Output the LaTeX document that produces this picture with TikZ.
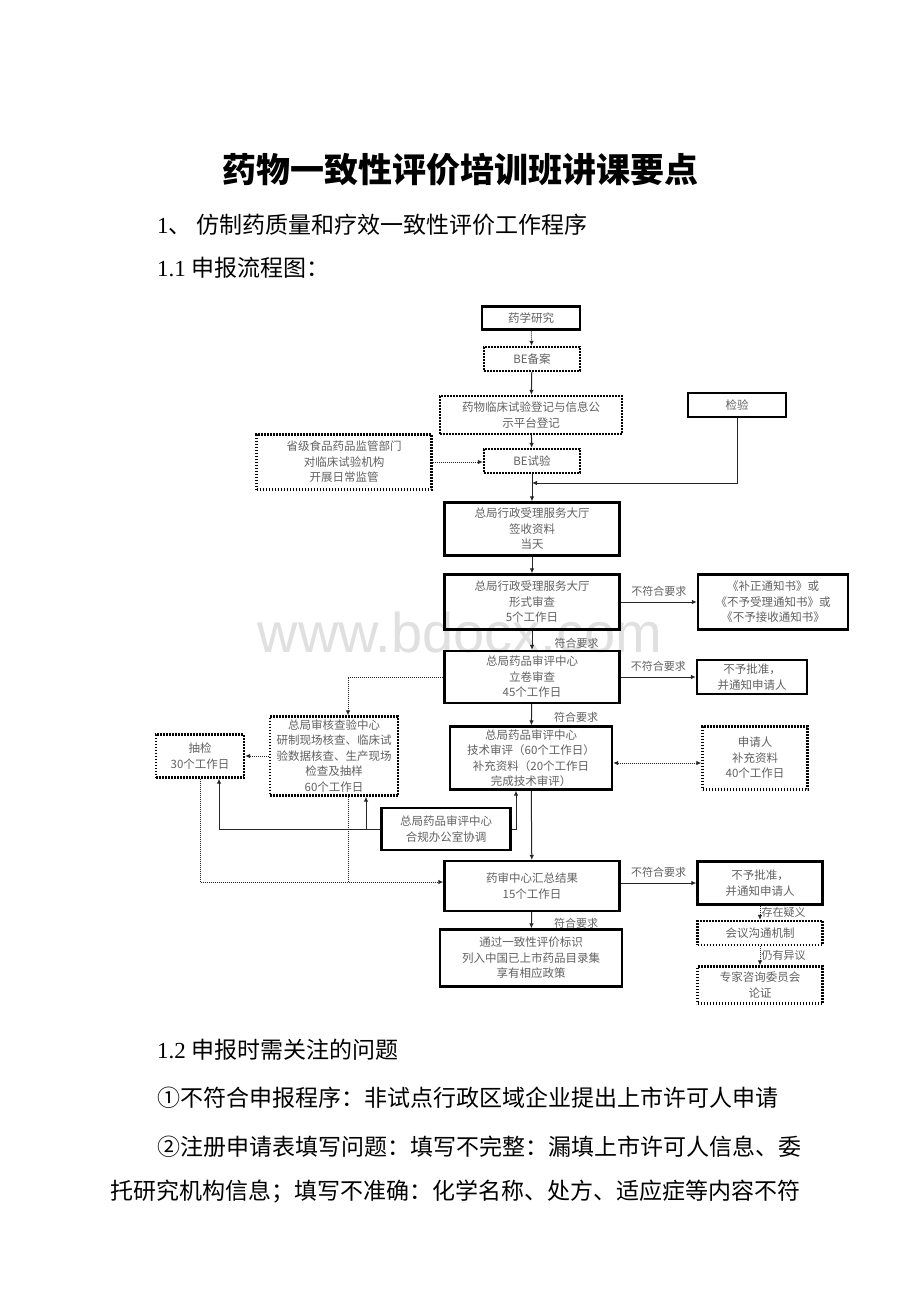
\documentclass[tikz,border=0pt]{standalone}
\usepackage{fontspec}
\setmainfont{Liberation Serif}
\newfontfamily\cjk{Noto Sans CJK SC}
\newfontfamily\wmfont{Liberation Sans}
\usetikzlibrary{arrows.meta}

\begin{document}
\begin{tikzpicture}[x=1pt,y=-1pt,
  box/.style={font=\cjk\fontsize{11.5}{15.5}\selectfont,text=black!62,align=center,inner sep=0pt},
  solidbox/.style={box,draw,line width=2.3pt},
  dotbox/.style={box,draw,line width=2.3pt,dash pattern=on 1.6pt off 1.4pt},
  link/.style={-{Latex[length=5pt,width=4.5pt]},line width=1pt,black!85},
  dotlink/.style={link,dash pattern=on 1pt off 1pt},
  lbl/.style={font=\cjk\fontsize{11}{13}\selectfont,text=black!62,inner sep=2pt},
  line/.style={font=\fontsize{23}{26}\selectfont,anchor=west,inner sep=0pt}]

\useasboundingbox (0,0) rectangle (920,1302);
\fill[white] (0,0) rectangle (920,1302);

\node[font=\wmfont\fontsize{56}{60}\selectfont,text=black!12] (mark) at (460,632) {www.bdocx.com};

\node[font=\cjk\bfseries\fontsize{34}{40}\selectfont] (title) at (460,170) {药物一致性评价培训班讲课要点};
\node[line] (sec1) at (157,225) {1{\cjk 、 仿制药质量和疗效一致性评价工作程序}};
\node[line] (sec11) at (157,268) {1.1 {\cjk 申报流程图：}};
\node[line] (sec12) at (157,1050) {1.2 {\cjk 申报时需关注的问题}};
\node[line] (p1) at (157,1098) {\cjk ①不符合申报程序：非试点行政区域企业提出上市许可人申请};
\node[line] (p2) at (157,1147) {\cjk ②注册申请表填写问题：填写不完整：漏填上市许可人信息、委};
\node[line] (p3) at (110,1192) {\cjk 托研究机构信息；填写不准确：化学名称、处方、适应症等内容不符};

% boxes
\node[solidbox,minimum width=98,minimum height=23] (yaoxue) at (531,318) {药学研究};
\node[dotbox,minimum width=96,minimum height=24] (bebei) at (532,359) {BE备案};
\node[dotbox,minimum width=182,minimum height=38] (dengji) at (531,415) {药物临床试验登记与信息公\\示平台登记};
\node[solidbox,minimum width=98,minimum height=24] (jianyan) at (737,405) {检验};
\node[dotbox,minimum width=175,minimum height=55] (shengji) at (344,462) {省级食品药品监管部门\\对临床试验机构\\开展日常监管};
\node[dotbox,minimum width=96,minimum height=24] (beshiyan) at (532,461) {BE试验};
\node[solidbox,minimum width=175,minimum height=53] (qianshou) at (532,529) {总局行政受理服务大厅\\签收资料\\当天};
\node[solidbox,minimum width=175,minimum height=55] (xingshi) at (532,602) {总局行政受理服务大厅\\形式审查\\5个工作日};
\node[solidbox,minimum width=150,minimum height=55] (buzheng) at (773,602) {《补正通知书》或\\《不予受理通知书》或\\《不予接收通知书》};
\node[solidbox,minimum width=175,minimum height=52] (lijuan) at (532,677) {总局药品审评中心\\立卷审查\\45个工作日};
\node[solidbox,minimum width=110,minimum height=34] (buyu1) at (752,677) {不予批准，\\并通知申请人};
\node[dotbox,minimum width=128,minimum height=79] (hecha) at (334,756) {总局审核查验中心\\研制现场核查、临床试\\验数据核查、生产现场\\检查及抽样\\60个工作日};
\node[dotbox,minimum width=88,minimum height=43] (choujian) at (200,756) {抽检\\30个工作日};
\node[solidbox,minimum width=162,minimum height=63] (jishu) at (531,758) {总局药品审评中心\\技术审评（60个工作日）\\补充资料（20个工作日\\完成技术审评）};
\node[dotbox,minimum width=105,minimum height=63] (shenqing) at (755,758) {申请人\\补充资料\\40个工作日};
\node[solidbox,minimum width=129,minimum height=42] (hegui) at (446,829) {总局药品审评中心\\合规办公室协调};
\node[solidbox,minimum width=175,minimum height=50] (huizong) at (532,886) {药审中心汇总结果\\15个工作日};
\node[solidbox,minimum width=125,minimum height=43] (buyu2) at (760,883) {不予批准，\\并通知申请人};
\node[solidbox,minimum width=182,minimum height=57] (tongguo) at (531,958) {通过一致性评价标识\\列入中国已上市药品目录集\\享有相应政策};
\node[dotbox,minimum width=125,minimum height=24] (huiyi) at (760,933) {会议沟通机制};
\node[dotbox,minimum width=125,minimum height=37] (zhuanjia) at (760,985) {专家咨询委员会\\论证};

% connectors
\coordinate (merge) at (532,483);
\coordinate (join) at ([yshift=4pt]huizong.west);
\draw[dotlink] (yaoxue) -- (bebei);
\draw[link] (bebei) -- (dengji);
\draw[link] (dengji) -- (beshiyan);
\draw[link] (beshiyan) -- (qianshou);
\draw[dotlink] (shengji.east) -- (shengji.east -| beshiyan.west);
\draw[link] (jianyan.south) |- (merge);
\draw[link] (qianshou) -- (xingshi);
\draw[link] (xingshi) -- node[lbl,anchor=west,xshift=20pt,yshift=-3pt]{符合要求} (lijuan);
\draw[link] (xingshi.east) -- node[lbl,above,yshift=3pt]{不符合要求} (buzheng.west);
\draw[link] (lijuan.east) -- node[lbl,above,yshift=3pt]{不符合要求} (buyu1.west);
\draw[link] (lijuan) -- node[lbl,anchor=west,xshift=20pt,yshift=-3pt]{符合要求} (jishu);
\draw[dotlink] (lijuan.west) -| ([xshift=14pt]hecha.north);
\draw[dotlink] (hecha) -- (choujian);
\draw[dotlink,{Latex[length=5pt,width=4.5pt]}-{Latex[length=5pt,width=4.5pt]}] ([yshift=-5pt]jishu.east) -- ([yshift=-5pt]shenqing.west);
\draw[link] (hegui.west) -| ([xshift=19pt]choujian.south);
\draw[link] ([xshift=32pt]hecha.south |- hegui.west) -- ([xshift=32pt]hecha.south);
\draw[link] (hegui.east) -| ([xshift=-15pt]jishu.south);
\draw[link] (jishu) -- (huizong);
\draw[dotlink] (choujian.south) |- (join);
\draw[line width=1pt,black!85,dash pattern=on 1pt off 1pt] ([xshift=14pt]hecha.south) -- ([xshift=14pt]hecha.south |- join);
\draw[link] (huizong.east |- buyu2.west) -- node[lbl,above,yshift=3pt]{不符合要求} (buyu2.west);
\draw[link] (huizong) -- node[lbl,anchor=west,xshift=20pt,yshift=-3pt]{符合要求} (tongguo);
\draw[dotlink] (buyu2) -- node[lbl,anchor=west,inner sep=1pt]{存在疑义} (huiyi);
\draw[dotlink] (huiyi) -- node[lbl,anchor=west,inner sep=1pt]{仍有异议} (zhuanjia);

\end{tikzpicture}
\end{document}
